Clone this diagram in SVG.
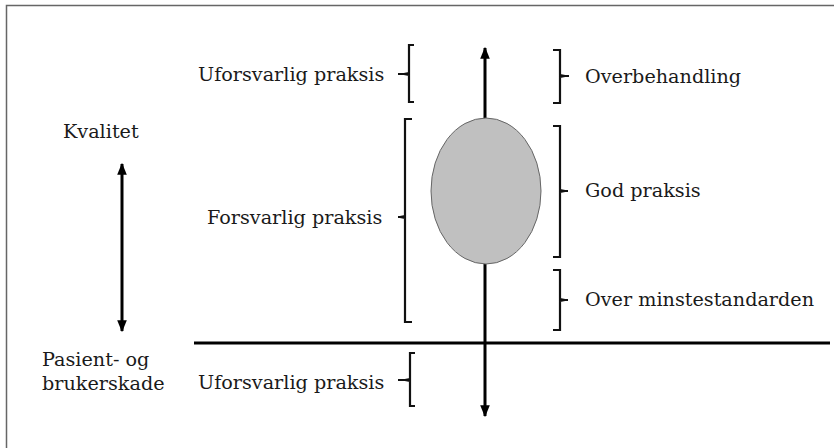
<svg xmlns="http://www.w3.org/2000/svg" width="834" height="448" viewBox="0 0 834 448">
<style>
text{font-family:"DejaVu Serif","Liberation Serif",serif;font-size:19.2px;fill:#1a1a1a}
.br{fill:none;stroke:#111;stroke-width:2.2;stroke-linejoin:miter}
.ax{stroke:#000;stroke-width:3;fill:none}
</style>
<defs>
<marker id="ah" viewBox="0 0 10 10" refX="9" refY="5" markerWidth="4" markerHeight="4" orient="auto-start-reverse" markerUnits="strokeWidth">
<path d="M0,1 L10,5 L0,9 z" fill="#000"/>
</marker>
</defs>
<rect width="834" height="448" fill="#fff"/>
<path d="M6.5,448 V5.5 H834" fill="none" stroke="#666" stroke-width="1.5"/>
<g id="connectors">
<line class="ax" x1="194" y1="343" x2="830" y2="343"/>
<line class="ax" x1="485" y1="416" x2="485" y2="48" marker-start="url(#ah)" marker-end="url(#ah)"/>
<line class="ax" x1="122" y1="164" x2="122" y2="331" marker-start="url(#ah)" marker-end="url(#ah)"/>
</g>
<g id="ellipse">
<ellipse cx="486" cy="191" rx="55" ry="73" fill="#c0c0c0" stroke="#666" stroke-width="1"/>
</g>
<g id="kvalitet"><text x="63" y="138">Kvalitet</text></g>
<g id="pasient"><text x="42" y="366">Pasient- og</text><text x="42" y="390">brukerskade</text></g>
<g id="uforsvarlig-top">
<text x="198" y="81">Uforsvarlig praksis</text>
<path class="br" d="M414,45 H409 V73 L404,74 L409,75 V102 H414 M398,74 H404"/>
</g>
<g id="forsvarlig">
<text x="207" y="224">Forsvarlig praksis</text>
<path class="br" d="M412,119 H405 V216 L400,217 L405,218 V322 H412 M398,217 H402"/>
</g>
<g id="uforsvarlig-bottom">
<text x="198" y="389">Uforsvarlig praksis</text>
<path class="br" d="M415,353 H410 V379 L405,380 L410,381 V406 H415 M398,380 H405"/>
</g>
<g id="overbehandling">
<text x="585" y="83">Overbehandling</text>
<path class="br" d="M553,50 H560 V75 L565,76 L560,77 V103 H553 M565,76 H569"/>
</g>
<g id="god">
<text x="585" y="197">God praksis</text>
<path class="br" d="M553,126 H560 V190 L565,191 L560,192 V257 H553 M565,191 H568"/>
</g>
<g id="over-minste">
<text x="585" y="306">Over minstestandarden</text>
<path class="br" d="M553,270 H560 V299 L565,300 L560,301 V330 H553 M565,300 H568"/>
</g>
</svg>
